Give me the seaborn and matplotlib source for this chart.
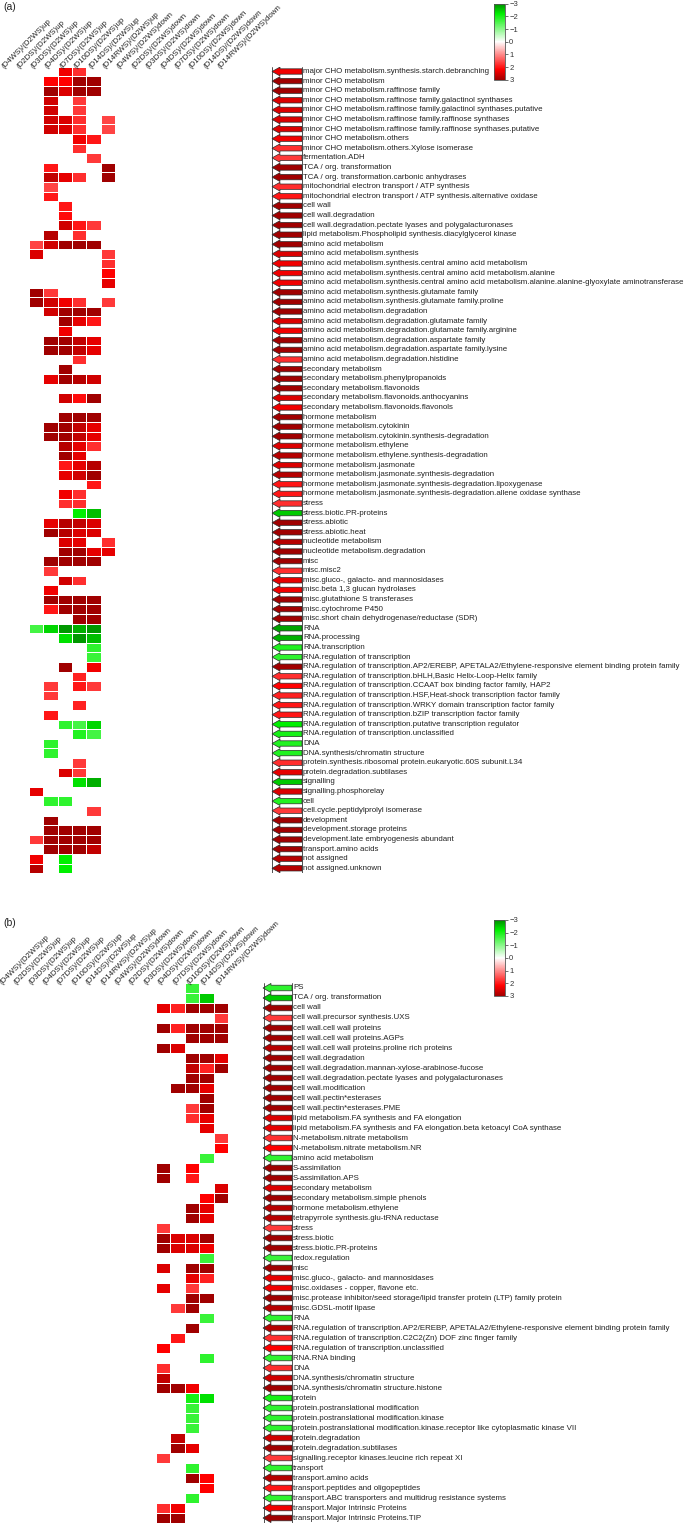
import numpy as np
import pandas as pd
import seaborn as sns
import matplotlib
matplotlib.use("Agg")
import matplotlib.pyplot as plt
from matplotlib.colors import LinearSegmentedColormap, Normalize
from matplotlib.patches import FancyArrow
import matplotlib.cm as cm

# ---------------- data ----------------
conditions = ["(D4WS)/(D2WS)up", "(D2DS)/(D2WS)up", "(D3DS)/(D2WS)up", "(D4DS)/(D2WS)up",
              "(D7DS)/(D2WS)up", "(D10DS)/(D2WS)up", "(D14DS)/(D2WS)up", "(D14RWS)/(D2WS)up",
              "(D4WS)/(D2WS)down", "(D2DS)/(D2WS)down", "(D3DS)/(D2WS)down", "(D4DS)/(D2WS)down",
              "(D7DS)/(D2WS)down", "(D10DS)/(D2WS)down", "(D14DS)/(D2WS)down", "(D14RWS)/(D2WS)down"]

a_labels = [
    "major CHO metabolism.synthesis.starch.debranching",
    "minor CHO metabolism",
    "minor CHO metabolism.raffinose family",
    "minor CHO metabolism.raffinose family.galactinol synthases",
    "minor CHO metabolism.raffinose family.galactinol synthases.putative",
    "minor CHO metabolism.raffinose family.raffinose synthases",
    "minor CHO metabolism.raffinose family.raffinose synthases.putative",
    "minor CHO metabolism.others",
    "minor CHO metabolism.others.Xylose isomerase",
    "fermentation.ADH",
    "TCA / org. transformation",
    "TCA / org. transformation.carbonic anhydrases",
    "mitochondrial electron transport / ATP synthesis",
    "mitochondrial electron transport / ATP synthesis.alternative oxidase",
    "cell wall",
    "cell wall.degradation",
    "cell wall.degradation.pectate lyases and polygalacturonases",
    "lipid metabolism.Phospholipid synthesis.diacylglycerol kinase",
    "amino acid metabolism",
    "amino acid metabolism.synthesis",
    "amino acid metabolism.synthesis.central amino acid metabolism",
    "amino acid metabolism.synthesis.central amino acid metabolism.alanine",
    "amino acid metabolism.synthesis.central amino acid metabolism.alanine.alanine-glyoxylate aminotransferase",
    "amino acid metabolism.synthesis.glutamate family",
    "amino acid metabolism.synthesis.glutamate family.proline",
    "amino acid metabolism.degradation",
    "amino acid metabolism.degradation.glutamate family",
    "amino acid metabolism.degradation.glutamate family.arginine",
    "amino acid metabolism.degradation.aspartate family",
    "amino acid metabolism.degradation.aspartate family.lysine",
    "amino acid metabolism.degradation.histidine",
    "secondary metabolism",
    "secondary metabolism.phenylpropanoids",
    "secondary metabolism.flavonoids",
    "secondary metabolism.flavonoids.anthocyanins",
    "secondary metabolism.flavonoids.flavonols",
    "hormone metabolism",
    "hormone metabolism.cytokinin",
    "hormone metabolism.cytokinin.synthesis-degradation",
    "hormone metabolism.ethylene",
    "hormone metabolism.ethylene.synthesis-degradation",
    "hormone metabolism.jasmonate",
    "hormone metabolism.jasmonate.synthesis-degradation",
    "hormone metabolism.jasmonate.synthesis-degradation.lipoxygenase",
    "hormone metabolism.jasmonate.synthesis-degradation.allene oxidase synthase",
    "stress",
    "stress.biotic.PR-proteins",
    "stress.abiotic",
    "stress.abiotic.heat",
    "nucleotide metabolism",
    "nucleotide metabolism.degradation",
    "misc",
    "misc.misc2",
    "misc.gluco-, galacto- and mannosidases",
    "misc.beta 1,3 glucan hydrolases",
    "misc.glutathione S transferases",
    "misc.cytochrome P450",
    "misc.short chain dehydrogenase/reductase (SDR)",
    "RNA",
    "RNA.processing",
    "RNA.transcription",
    "RNA.regulation of transcription",
    "RNA.regulation of transcription.AP2/EREBP, APETALA2/Ethylene-responsive element binding protein family",
    "RNA.regulation of transcription.bHLH,Basic Helix-Loop-Helix family",
    "RNA.regulation of transcription.CCAAT box binding factor family, HAP2",
    "RNA.regulation of transcription.HSF,Heat-shock transcription factor family",
    "RNA.regulation of transcription.WRKY domain transcription factor family",
    "RNA.regulation of transcription.bZIP transcription factor family",
    "RNA.regulation of transcription.putative transcription regulator",
    "RNA.regulation of transcription.unclassified",
    "DNA",
    "DNA.synthesis/chromatin structure",
    "protein.synthesis.ribosomal protein.eukaryotic.60S subunit.L34",
    "protein.degradation.subtilases",
    "signalling",
    "signalling.phosphorelay",
    "cell",
    "cell.cycle.peptidylprolyl isomerase",
    "development",
    "development.storage proteins",
    "development.late embryogenesis abundant",
    "transport.amino acids",
    "not assigned",
    "not assigned.unknown",
]

# cell values per row: {condition index: value}
a_cells = [
    {4: 2.3, 5: 1.8}, {3: 2.2, 4: 2.2, 5: 3, 6: 3}, {3: 3, 4: 2.5, 5: 3, 6: 3},
    {3: 2.6, 5: 1.7}, {3: 2.6, 5: 1.7}, {3: 2.6, 4: 2.5, 5: 1.8, 7: 1.6},
    {3: 2.6, 4: 2.5, 5: 1.8, 7: 1.6}, {5: 2.3, 6: 2.0}, {5: 1.8}, {6: 1.7},
    {3: 2.0, 7: 3}, {3: 2.7, 4: 2.4, 5: 1.8, 7: 3}, {3: 1.6}, {3: 2.0}, {4: 2.0},
    {4: 2.1}, {4: 2.6, 5: 2.0, 6: 1.7}, {3: 2.8, 5: 1.8}, {2: 1.6, 3: 2.6, 4: 3, 5: 3, 6: 3},
    {2: 2.5, 7: 1.7}, {7: 1.8}, {7: 2.2}, {7: 2.4}, {2: 3, 3: 1.7},
    {2: 3, 3: 2.6, 4: 2.3, 5: 1.8, 7: 1.7}, {3: 2.6, 4: 3, 5: 3, 6: 3},
    {4: 3, 5: 2.4, 6: 2.0}, {4: 2.3}, {3: 3, 4: 3, 5: 2.7, 6: 2.4},
    {3: 3, 4: 3, 5: 2.7, 6: 2.4}, {5: 1.8}, {4: 3}, {3: 2.4, 4: 3, 5: 2.8, 6: 2.6},
    {}, {4: 2.6, 5: 2.1, 6: 3}, {}, {4: 3, 5: 3, 6: 3}, {3: 3, 4: 3, 5: 2.7, 6: 2.4},
    {3: 3, 4: 3, 5: 2.7, 6: 2.4}, {4: 2.8, 5: 2.4, 6: 1.8}, {4: 3, 5: 2.4},
    {4: 2.0, 5: 2.4, 6: 2.8}, {4: 2.4, 5: 2.6, 6: 3}, {6: 2.0}, {4: 2.3, 5: 1.8},
    {4: 1.8, 5: 1.8}, {5: -2.2, 6: -2.6}, {3: 2.4, 4: 2.8, 5: 2.7, 6: 2.5},
    {3: 3, 4: 2.8, 5: 2.5, 6: 2.5}, {4: 2.5, 5: 2.4, 7: 1.8}, {4: 3, 5: 3, 6: 2.4, 7: 2.4},
    {3: 3, 4: 3, 5: 3, 6: 3}, {3: 1.7}, {4: 2.6, 5: 1.8}, {3: 2.3},
    {3: 3, 4: 3, 5: 3, 6: 3}, {3: 2.0, 4: 3, 5: 3, 6: 3}, {5: 3, 6: 3},
    {2: -1.6, 3: -2.4, 4: -2.9, 5: -2.7, 6: -2.9}, {4: -2.3, 5: -2.9, 6: -2.6},
    {6: -1.8}, {6: -1.7}, {4: 3, 6: 2.3}, {5: 1.9}, {3: 1.7, 5: 2.0, 6: 1.7},
    {3: 1.7}, {5: 1.9}, {3: 2.0}, {4: -1.8, 5: -1.6, 6: -2.4}, {5: -1.9, 6: -1.6},
    {3: -1.8}, {3: -1.8}, {5: 1.7}, {4: 2.5, 5: 1.7}, {5: -2.3, 6: -2.7}, {2: 2.4},
    {3: -1.8, 4: -1.8}, {6: 1.7}, {3: 3}, {3: 3, 4: 3, 5: 3, 6: 3},
    {2: 1.7, 3: 3, 4: 3, 5: 3, 6: 3}, {3: 3, 4: 3, 5: 3, 6: 2.7},
    {2: 2.3, 4: -2.2}, {2: 2.8, 4: -2.2},
]

a_arrows = [2.3, 3, 3, 2.5, 2.5, 2.5, 2.5, 2.3, 1.8, 1.7, 3, 3, 1.8, 2.0, 3, 3, 3, 3, 3, 2.5,
            2.3, 2.3, 2.3, 3, 3, 3, 2.5, 2.3, 3, 3, 1.8, 3, 3, 3, 2.5, 2.3, 3, 3, 3, 2.5,
            2.8, 2.5, 2.8, 2.0, 2.0, 1.8, -2.5, 3, 3, 2.8, 3, 3, 1.8, 2.4, 2.3, 3, 3, 3,
            -2.8, -2.7, -1.9, -1.8, 3, 1.8, 2.2, 1.9, 2.0, 2.0, -2.2, -2.0, -1.9, -1.9,
            1.8, 2.4, -2.5, 2.5, -1.9, 1.7, 3, 3, 3, 3, 2.8, 2.8]

b_labels = [
    "PS",
    "TCA / org. transformation",
    "cell wall",
    "cell wall.precursor synthesis.UXS",
    "cell wall.cell wall proteins",
    "cell wall.cell wall proteins.AGPs",
    "cell wall.cell wall proteins.proline rich proteins",
    "cell wall.degradation",
    "cell wall.degradation.mannan-xylose-arabinose-fucose",
    "cell wall.degradation.pectate lyases and polygalacturonases",
    "cell wall.modification",
    "cell wall.pectin*esterases",
    "cell wall.pectin*esterases.PME",
    "lipid metabolism.FA synthesis and FA elongation",
    "lipid metabolism.FA synthesis and FA elongation.beta ketoacyl CoA synthase",
    "N-metabolism.nitrate metabolism",
    "N-metabolism.nitrate metabolism.NR",
    "amino acid metabolism",
    "S-assimilation",
    "S-assimilation.APS",
    "secondary metabolism",
    "secondary metabolism.simple phenols",
    "hormone metabolism.ethylene",
    "tetrapyrrole synthesis.glu-tRNA reductase",
    "stress",
    "stress.biotic",
    "stress.biotic.PR-proteins",
    "redox.regulation",
    "misc",
    "misc.gluco-, galacto- and mannosidases",
    "misc.oxidases - copper, flavone etc.",
    "misc.protease inhibitor/seed storage/lipid transfer protein (LTP) family protein",
    "misc.GDSL-motif lipase",
    "RNA",
    "RNA.regulation of transcription.AP2/EREBP, APETALA2/Ethylene-responsive element binding protein family",
    "RNA.regulation of transcription.C2C2(Zn) DOF zinc finger family",
    "RNA.regulation of transcription.unclassified",
    "RNA.RNA binding",
    "DNA",
    "DNA.synthesis/chromatin structure",
    "DNA.synthesis/chromatin structure.histone",
    "protein",
    "protein.postranslational modification",
    "protein.postranslational modification.kinase",
    "protein.postranslational modification.kinase.receptor like cytoplasmatic kinase VII",
    "protein.degradation",
    "protein.degradation.subtilases",
    "signalling.receptor kinases.leucine rich repeat XI",
    "transport",
    "transport.amino acids",
    "transport.peptides and oligopeptides",
    "transport.ABC transporters and multidrug resistance systems",
    "transport.Major Intrinsic Proteins",
    "transport.Major Intrinsic Proteins.TIP",
]

b_cells = [
    {13: -1.7}, {13: -1.7, 14: -2.5}, {11: 2.4, 12: 1.9, 13: 3, 14: 3, 15: 3}, {15: 1.7},
    {11: 3, 12: 1.9, 13: 3, 14: 3, 15: 3}, {13: 3, 14: 3, 15: 3}, {11: 3, 12: 2.5},
    {13: 3, 14: 3, 15: 2.4}, {13: 2.7, 14: 1.9, 15: 3}, {13: 3, 14: 3},
    {12: 3, 13: 3, 14: 2.4}, {14: 3}, {13: 1.7, 14: 3}, {13: 1.8, 14: 2.4}, {14: 2.4},
    {15: 1.7}, {15: 2.2}, {14: -1.7}, {11: 3, 13: 2.2}, {11: 3, 13: 2.0}, {15: 2.5},
    {14: 2.2, 15: 3}, {13: 3, 14: 2.4}, {13: 3, 14: 2.4}, {11: 1.7},
    {11: 3, 12: 2.5, 13: 2.5, 14: 3}, {11: 3, 12: 2.5, 13: 2.5, 14: 2.3}, {14: -1.7},
    {11: 2.5, 13: 3, 14: 3}, {13: 2.4, 14: 1.9}, {11: 2.4, 13: 1.7}, {13: 3, 14: 3},
    {12: 1.7, 13: 3}, {14: -1.7}, {13: 3}, {12: 2.0}, {11: 2.2}, {14: -1.8}, {11: 1.8},
    {11: 2.7}, {11: 3, 12: 3, 13: 2.3}, {13: -2.0, 14: -2.3}, {13: -1.7}, {13: -1.7},
    {13: -1.7}, {12: 2.7}, {12: 3, 13: 2.4}, {11: 1.7}, {13: -1.8}, {13: 3, 14: 2.2},
    {14: 2.2}, {13: -1.8}, {11: 1.8, 12: 2.3}, {11: 3, 12: 3},
]

b_arrows = [-1.8, -2.5, 3, 1.7, 3, 3, 2.8, 3, 3, 3, 3, 3, 3, 2.5, 2.4, 1.8, 2.2, -1.8, 3, 3,
            2.5, 3, 2.8, 2.8, 1.7, 3, 3, -1.7, 3, 2.4, 2.3, 3, 2.8, -1.8, 2.8, 1.8, 2.2,
            -1.8, 1.8, 2.6, 3, -2.0, -1.8, -1.8, -1.8, 2.6, 3, 1.7, -1.8, 2.8, 2.0, -1.8,
            2.3, 3]

cbar_ticks = [-3, -2, -1, 0, 1, 2, 3]

# ---------------- style ----------------
sns.set_theme(style="white")
plt.rcParams["font.family"] = ["Liberation Sans", "DejaVu Sans"]
plt.rcParams["axes.unicode_minus"] = True

W, H = 687, 1529
fig = plt.figure(figsize=(W / 100, H / 100), dpi=100)
fig.patch.set_facecolor("white")

cmap = LinearSegmentedColormap.from_list(
    "gwr", [(0.0, "#008c00"), (0.1333, "#00f000"), (0.5, "#ffffff"),
            (0.8667, "#ff0000"), (1.0, "#a00000")])
norm = Normalize(vmin=-3, vmax=3)


def ax_px(x0, y0, w, h):
    return fig.add_axes([x0 / W, 1 - (y0 + h) / H, w / W, h / H])


def build(cells):
    m = np.full((len(cells), len(conditions)), np.nan)
    for i, d in enumerate(cells):
        for c, v in d.items():
            m[i, c] = v
    return m


def panel(tag, labels, cells, arrows, hx, top, pitch, tip, tail):
    n = len(labels)
    df = pd.DataFrame(build(cells), index=labels, columns=conditions)
    ax = ax_px(hx, top, 14.4 * len(conditions), pitch * n)
    sns.heatmap(df, ax=ax, cmap=cmap, vmin=-3, vmax=3, cbar=False,
                linewidths=0.7, linecolor="white",
                xticklabels=False, yticklabels=False)
    ax.set_xlabel("")
    ax.set_ylabel("")
    for i, lab in enumerate(conditions):
        ax.text(i + 0.3, 0.15, lab, rotation=45, rotation_mode="anchor",
                ha="left", va="baseline", fontsize=5.7, color="#222222",
                clip_on=False)

    # arrows + labels
    axa = ax_px(tip - 10, top, W - (tip - 10), pitch * n)
    axa.set_xlim(tip - 10, W)
    axa.set_ylim(n, 0)
    axa.axis("off")
    axa.axvline(tip + 0.5, color="#333333", lw=0.6)
    axa.axvline(tail, color="#333333", lw=0.6)
    for r, (lab, v) in enumerate(zip(labels, arrows)):
        axa.add_patch(FancyArrow(tail, r + 0.5, -(tail - tip), 0, width=0.56,
                                 head_width=0.92, head_length=8,
                                 length_includes_head=True,
                                 fc=cmap(norm(v)), ec="#2a2a2a", lw=0.5))
        axa.text(tail + 1, r + 0.5, lab, fontsize=5.65, va="center", ha="left",
                 color="#222222")

    # panel tag
    fig.text(3 / W, 1 - (top - 65) / H, tag, fontsize=7.5, va="top", ha="left",
             color="#222222")

    # colour legend
    cax = ax_px(494, top - 63, 11, 76)
    cb = fig.colorbar(cm.ScalarMappable(norm=norm, cmap=cmap), cax=cax,
                      ticks=cbar_ticks)
    cax.invert_yaxis()
    cb.outline.set_linewidth(0.6)
    cb.outline.set_edgecolor("#555555")
    cax.tick_params(labelsize=5.5, length=2, width=0.5, pad=1, colors="#333333")


panel("(a)", a_labels, a_cells, a_arrows, 0, 66.7, 9.6, 272, 302)
panel("(b)", b_labels, b_cells, b_arrows, -2.5, 983, 10.0, 263, 292)

fig.savefig("out.png", dpi=100, facecolor="white")
